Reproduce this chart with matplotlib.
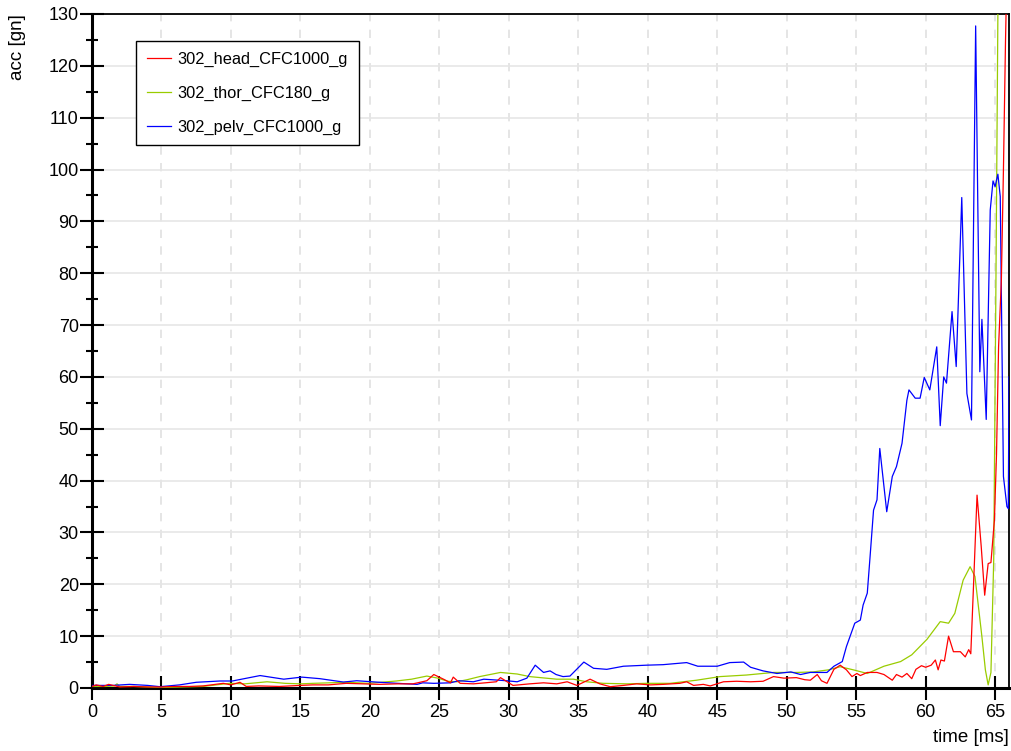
import matplotlib
matplotlib.use("Agg")
import matplotlib.pyplot as plt
from matplotlib.ticker import MultipleLocator

plt.rcParams['font.family'] = ['Liberation Sans', 'DejaVu Sans']

# time [ms] / acceleration [g] samples for the three channels
head_t = [0.0, 0.3, 0.8, 1.2, 2.0, 3.0, 4.0, 5.0, 6.0, 7.0, 8.0, 9.45, 10.0, 10.65, 11.1,
          12.0, 13.5, 15.0, 15.9, 17.0, 18.3, 19.5, 20.7, 22.0, 23.1, 24.1, 24.6, 25.3,
          25.8, 26.0, 26.5, 27.45, 28.3, 29.1, 29.4, 30.3, 31.5, 32.5, 33.45, 34.2,
          34.9, 35.85, 36.55, 37.3, 38.25, 39.2, 40.2, 41.1, 42.3, 42.8, 43.3, 44.0,
          44.5, 45.45, 46.4, 47.4, 48.3, 49.05, 49.8, 50.7, 51.3, 51.7, 52.2, 52.5,
          52.9, 53.4, 53.85, 54.3, 54.7, 55.05, 55.3, 55.8, 56.5, 57.0, 57.6, 57.9,
          58.3, 58.65, 59.0, 59.3, 59.7, 60.0, 60.4, 60.7, 60.9, 61.1, 61.35, 61.65,
          62.0, 62.5, 62.85, 63.1, 63.25, 63.45, 63.7, 64.0, 64.25, 64.5, 64.7, 64.95,
          65.1, 65.25, 65.45, 65.6, 65.75, 65.9]
head_g = [0.3, 0.6, 0.3, 0.7, 0.2, 0.3, 0.2, 0.2, 0.3, 0.3, 0.4, 0.9, 0.6, 1.1, 0.3,
          0.4, 0.3, 0.5, 0.6, 0.6, 0.9, 0.8, 0.7, 0.8, 0.8, 1.4, 2.6, 1.7,
          1.0, 2.1, 0.9, 0.8, 1.0, 1.2, 2.0, 0.5, 0.8, 1.0, 0.8, 1.2,
          0.5, 1.7, 0.8, 0.25, 0.5, 0.8, 0.6, 0.7, 0.9, 1.2, 0.5, 0.7,
          0.4, 1.2, 1.3, 1.2, 1.3, 2.2, 1.9, 2.0, 1.6, 1.5, 2.6, 1.4,
          0.9, 3.6, 4.4, 3.5, 2.2, 2.8, 2.4, 3.0, 3.0, 2.6, 1.5, 2.6,
          2.1, 2.8, 1.8, 3.6, 4.3, 4.0, 4.4, 5.4, 3.5, 5.4, 5.2, 10.0,
          7.0, 7.0, 6.0, 7.4, 6.6, 20.0, 37.2, 27.3, 17.9, 24.0, 24.2, 32.4,
          45.0, 65.8, 78.7, 100.0, 125.0, 145.0]

thor_t = [0.0, 1.0, 1.6, 1.8, 2.0, 3.0, 4.0, 5.0, 6.5, 8.0, 9.9, 11.0, 12.6, 13.9,
          15.0, 15.9, 18.3, 19.9, 21.9, 23.0, 24.1, 24.9, 25.6, 26.25, 27.0, 27.9,
          29.4, 30.6, 31.5, 33.45, 34.65, 35.6, 36.8, 38.5, 39.9, 41.6, 43.5, 45.2,
          47.1, 49.05, 50.7, 51.9, 53.0, 53.85, 54.8, 55.8, 57.0, 58.2, 59.0, 60.1,
          61.05, 61.65, 62.1, 62.7, 63.2, 63.55, 64.05, 64.3, 64.5, 64.7, 64.9,
          65.05, 65.2, 65.35]
thor_g = [0.3, 0.3, 0.4, 0.8, 0.3, 0.3, 0.2, 0.1, 0.2, 0.3, 0.9, 0.8, 1.2, 0.9,
          0.8, 0.9, 1.1, 0.9, 1.35, 1.7, 2.3, 1.9, 1.3, 1.2, 1.6, 2.2,
          3.0, 2.7, 2.2, 1.7, 1.7, 1.2, 0.9, 0.8, 0.9, 0.9, 1.5, 2.2,
          2.5, 3.0, 3.0, 3.1, 3.5, 4.1, 3.5, 2.8, 4.2, 5.1, 6.4, 9.4,
          12.8, 12.5, 14.4, 20.8, 23.4, 21.5, 9.9, 3.5, 0.6, 3.0, 24.7,
          74.8, 130.0, 160.0]

pelv_t = [0.0, 1.5, 2.7, 4.0, 4.9, 6.3, 7.5, 9.2, 10.1, 12.1, 13.8, 15.1, 16.4, 18.1,
          19.05, 20.7, 22.0, 23.4, 23.8, 24.6, 25.8, 26.4, 27.45, 28.2, 29.85, 30.6,
          31.3, 31.9, 32.5, 32.97, 33.4, 33.9, 34.4, 35.4, 36.1, 37.05, 38.25, 39.9,
          41.1, 42.8, 43.6, 45.0, 45.9, 46.9, 47.4, 48.3, 49.3, 50.3, 51.0, 51.7,
          52.9, 53.4, 54.0, 54.3, 54.9, 55.3, 55.5, 55.8, 56.0, 56.25, 56.5, 56.7,
          57.2, 57.6, 57.9, 58.3, 58.65, 58.8, 59.25, 59.6, 59.9, 60.3, 60.8, 61.05,
          61.3, 61.5, 61.9, 62.2, 62.6, 62.97, 63.3, 63.6, 63.9, 64.05, 64.36, 64.65,
          64.85, 65.0, 65.2, 65.37, 65.6, 65.85, 65.95, 66.0]
pelv_g = [0.5, 0.5, 0.7, 0.5, 0.25, 0.6, 1.1, 1.35, 1.35, 2.4, 1.7, 2.1, 1.8, 1.15,
          1.4, 1.1, 0.9, 0.7, 1.0, 0.9, 1.0, 1.4, 1.2, 1.7, 1.4, 1.2,
          1.9, 4.4, 3.0, 3.3, 2.6, 2.2, 2.3, 5.0, 3.8, 3.6, 4.2, 4.4,
          4.5, 4.9, 4.2, 4.2, 4.9, 5.0, 4.0, 3.3, 2.8, 3.1, 2.6, 3.0,
          3.0, 4.2, 5.1, 8.0, 12.5, 13.1, 16.0, 18.3, 25.3, 34.3, 36.3, 46.2,
          34.0, 40.8, 42.7, 47.2, 55.5, 57.5, 55.9, 55.9, 59.9, 57.5, 65.8, 50.6,
          60.0, 58.8, 72.6, 62.0, 94.6, 56.8, 51.7, 127.7, 61.0, 71.1, 51.8, 92.2,
          97.8, 96.7, 99.1, 94.8, 40.8, 35.0, 34.6, 60.0]

fig = plt.figure(figsize=(10.12, 7.51), dpi=100)
ax = fig.add_axes([92 / 1012, 1 - 688 / 751, 917 / 1012, 674 / 751])

ax.plot(head_t, head_g, color='#ff0000', lw=0.9, label='302_head_CFC1000_g', zorder=4)
ax.plot(thor_t, thor_g, color='#99cc00', lw=0.9, label='302_thor_CFC180_g', zorder=3)
ax.plot(pelv_t, pelv_g, color='#0000ff', lw=0.9, label='302_pelv_CFC1000_g', zorder=3.5)

ax.set_xlim(0, 66)
ax.set_ylim(0, 130)
ax.xaxis.set_major_locator(MultipleLocator(5))
ax.yaxis.set_major_locator(MultipleLocator(10))
ax.yaxis.set_minor_locator(MultipleLocator(5))

ax.grid(axis='y', which='major', color='#e6e6e6', lw=1.2, ls='-')
ax.grid(axis='x', which='major', color='#e0e0e0', lw=1.2, ls=(0, (5, 5)))
ax.set_axisbelow(True)

ax.tick_params(axis='both', which='major', direction='inout', length=17, width=1.5,
               labelsize=13, color='black')
ax.tick_params(axis='x', pad=3)
ax.tick_params(axis='y', pad=1)
ax.tick_params(axis='y', which='minor', direction='inout', length=9, width=1.5)

for side in ('left', 'bottom'):
    ax.spines[side].set_linewidth(2.2)
for side in ('top', 'right'):
    ax.spines[side].set_linewidth(1.3)

fig.text(18 / 1012, 1 - 14 / 751, 'acc [gn]', rotation=90, ha='center', va='top', fontsize=13.5)
fig.text(1009 / 1012, 1 - 737 / 751, 'time [ms]', ha='right', va='center', fontsize=13.5)

leg = ax.legend(loc='upper left', bbox_to_anchor=(0.048, 0.960), borderaxespad=0,
                fontsize=11.8, fancybox=False, framealpha=1, edgecolor='black',
                handlelength=1.5, handletextpad=0.4,
                labelspacing=1.15, borderpad=0.65)
leg.get_frame().set_linewidth(1.0)

fig.savefig('out.png', dpi=100)
